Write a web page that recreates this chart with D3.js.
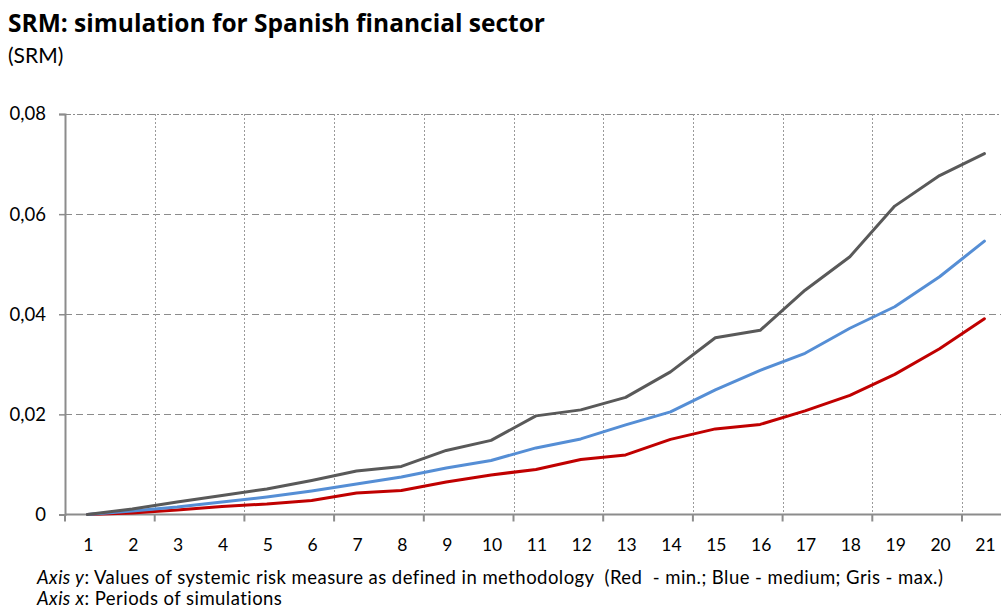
<!DOCTYPE html>
<html>
<head>
<meta charset="utf-8">
<script src="https://cdn.jsdelivr.net/npm/d3@7"></script>
<style>
  html, body { margin: 0; padding: 0; background: #fff; }
  svg { display: block; font-family: Lato, "Open Sans", sans-serif; }
  .note { white-space: pre; }
</style>
</head>
<body>
<svg id="chart" width="1001" height="611"></svg>
<script>
// Simulation periods (x categories)
const periods = ["1","2","3","4","5","6","7","8","9","10","11","12","13","14","15","16","17","18","19","20","21"];

// Systemic risk measure per period
const srmMin = [0, 0.0003, 0.0009, 0.0016, 0.0021, 0.0028, 0.0043, 0.0048, 0.0065, 0.0079, 0.0090,
                0.0110, 0.0119, 0.0150, 0.0171, 0.0180, 0.0207, 0.0238, 0.0280, 0.0331, 0.0391];
const srmMed = [0, 0.0007, 0.0015, 0.0025, 0.0035, 0.0047, 0.0061, 0.0075, 0.0093, 0.0108, 0.0133,
                0.0151, 0.0179, 0.0205, 0.0249, 0.0288, 0.0322, 0.0372, 0.0415, 0.0475, 0.0546];
const srmMax = [0, 0.0011, 0.0025, 0.0038, 0.0051, 0.0068, 0.0087, 0.0096, 0.0128, 0.0148, 0.0197,
                0.0209, 0.0234, 0.0285, 0.0353, 0.0368, 0.0448, 0.0515, 0.0616, 0.0677, 0.0721];

const yTicks = [0, 0.02, 0.04, 0.06, 0.08];

const svg = d3.select("#chart");

const plot = { left: 65, top: 114, bottom: 514.5 };
const bandW = 44.85;

const x = d3.scaleBand()
  .domain(periods)
  .range([plot.left, plot.left + bandW * periods.length])
  .paddingInner(0).paddingOuter(0);

const y = d3.scaleLinear().domain([0, 0.08]).range([plot.bottom, plot.top]);

const fmt = v => v === 0 ? "0" : d3.format(".2f")(v).replace(".", ",");
const rightEdge = x.range()[1];

// Title and subtitle
svg.append("text").attr("x", 8).attr("y", 32)
  .attr("font-family", "'Open Sans', Lato, sans-serif")
  .attr("font-size", 24.5).attr("font-weight", "bold").attr("fill", "#000")
  .attr("letter-spacing", 0)
  .text("SRM: simulation for Spanish financial sector");
svg.append("text").attr("x", 8).attr("y", 63)
  .attr("font-size", 21).attr("fill", "#000")
  .text("(SRM)");

// Horizontal gridlines
svg.append("g").selectAll("line")
  .data(yTicks.filter(d => d > 0))
  .join("line")
  .attr("x1", plot.left).attr("x2", rightEdge)
  .attr("y1", d => Math.round(y(d)) + 0.5).attr("y2", d => Math.round(y(d)) + 0.5)
  .attr("stroke", "#8c8c8c").attr("stroke-width", 1.2)
  .attr("stroke-dasharray", d => d === 0.08 ? "6,2,2,2" : "7,4");

// Vertical gridlines every second category boundary
const boundaries = periods.filter((p, i) => i % 2 === 0).map(p => x(p));
svg.append("g").selectAll("line")
  .data(boundaries.filter(b => b > plot.left + 1))
  .join("line")
  .attr("x1", d => Math.round(d) + 0.5).attr("x2", d => Math.round(d) + 0.5)
  .attr("y1", plot.top).attr("y2", plot.bottom)
  .attr("stroke", "#9a9a9a").attr("stroke-width", 1)
  .attr("stroke-dasharray", "2,2");

// Y axis
const yAxis = d3.axisLeft(y).tickValues(yTicks).tickFormat(fmt).tickSize(6).tickPadding(13);
const gy = svg.append("g").attr("transform", `translate(${plot.left},0)`).call(yAxis);
gy.select(".domain").attr("stroke", "#8c8c8c").attr("stroke-width", 2);
gy.selectAll(".tick line").attr("stroke", "#8c8c8c").attr("stroke-width", 1.5);
gy.selectAll(".tick text").attr("font-size", 18.5).attr("fill", "#000")
  .attr("font-family", "Lato, sans-serif");

// X axis line and tick marks
svg.append("line")
  .attr("x1", plot.left).attr("x2", rightEdge)
  .attr("y1", plot.bottom).attr("y2", plot.bottom)
  .attr("stroke", "#8c8c8c").attr("stroke-width", 2);
svg.append("g").selectAll("line")
  .data(boundaries)
  .join("line")
  .attr("x1", d => d).attr("x2", d => d)
  .attr("y1", plot.bottom).attr("y2", plot.bottom + 7)
  .attr("stroke", "#8c8c8c").attr("stroke-width", 2);

// X category labels
svg.append("g").selectAll("text")
  .data(periods)
  .join("text")
  .attr("x", d => x(d) + x.bandwidth() / 2 + 1)
  .attr("y", 551)
  .attr("text-anchor", "middle")
  .attr("font-size", 17.5).attr("fill", "#000")
  .text(d => d);

// Series lines
const series = [
  { values: srmMin, color: "#c00000" },
  { values: srmMed, color: "#558ed5" },
  { values: srmMax, color: "#595959" }
];
const line = d3.line()
  .x((d, i) => x(periods[i]) + x.bandwidth() / 2)
  .y(d => y(d));
svg.append("g").selectAll("path")
  .data(series)
  .join("path")
  .attr("d", d => line(d.values))
  .attr("fill", "none")
  .attr("stroke", d => d.color)
  .attr("stroke-width", 3)
  .attr("stroke-linejoin", "round")
  .attr("stroke-linecap", "round");

// Notes below the chart
const note1 = svg.append("text").attr("class", "note").attr("x", 37).attr("y", 584)
  .attr("font-size", 18.5).attr("letter-spacing", 0.45).attr("fill", "#000");
note1.append("tspan").attr("font-style", "italic").text("Axis y");
note1.append("tspan").text(": Values of systemic risk measure as defined in methodology  (Red  - min.; Blue - medium; Gris - max.)");
const note2 = svg.append("text").attr("class", "note").attr("x", 37).attr("y", 605)
  .attr("font-size", 18.5).attr("letter-spacing", 0.45).attr("fill", "#000");
note2.append("tspan").attr("font-style", "italic").text("Axis x");
note2.append("tspan").text(": Periods of simulations");
</script>
</body>
</html>
